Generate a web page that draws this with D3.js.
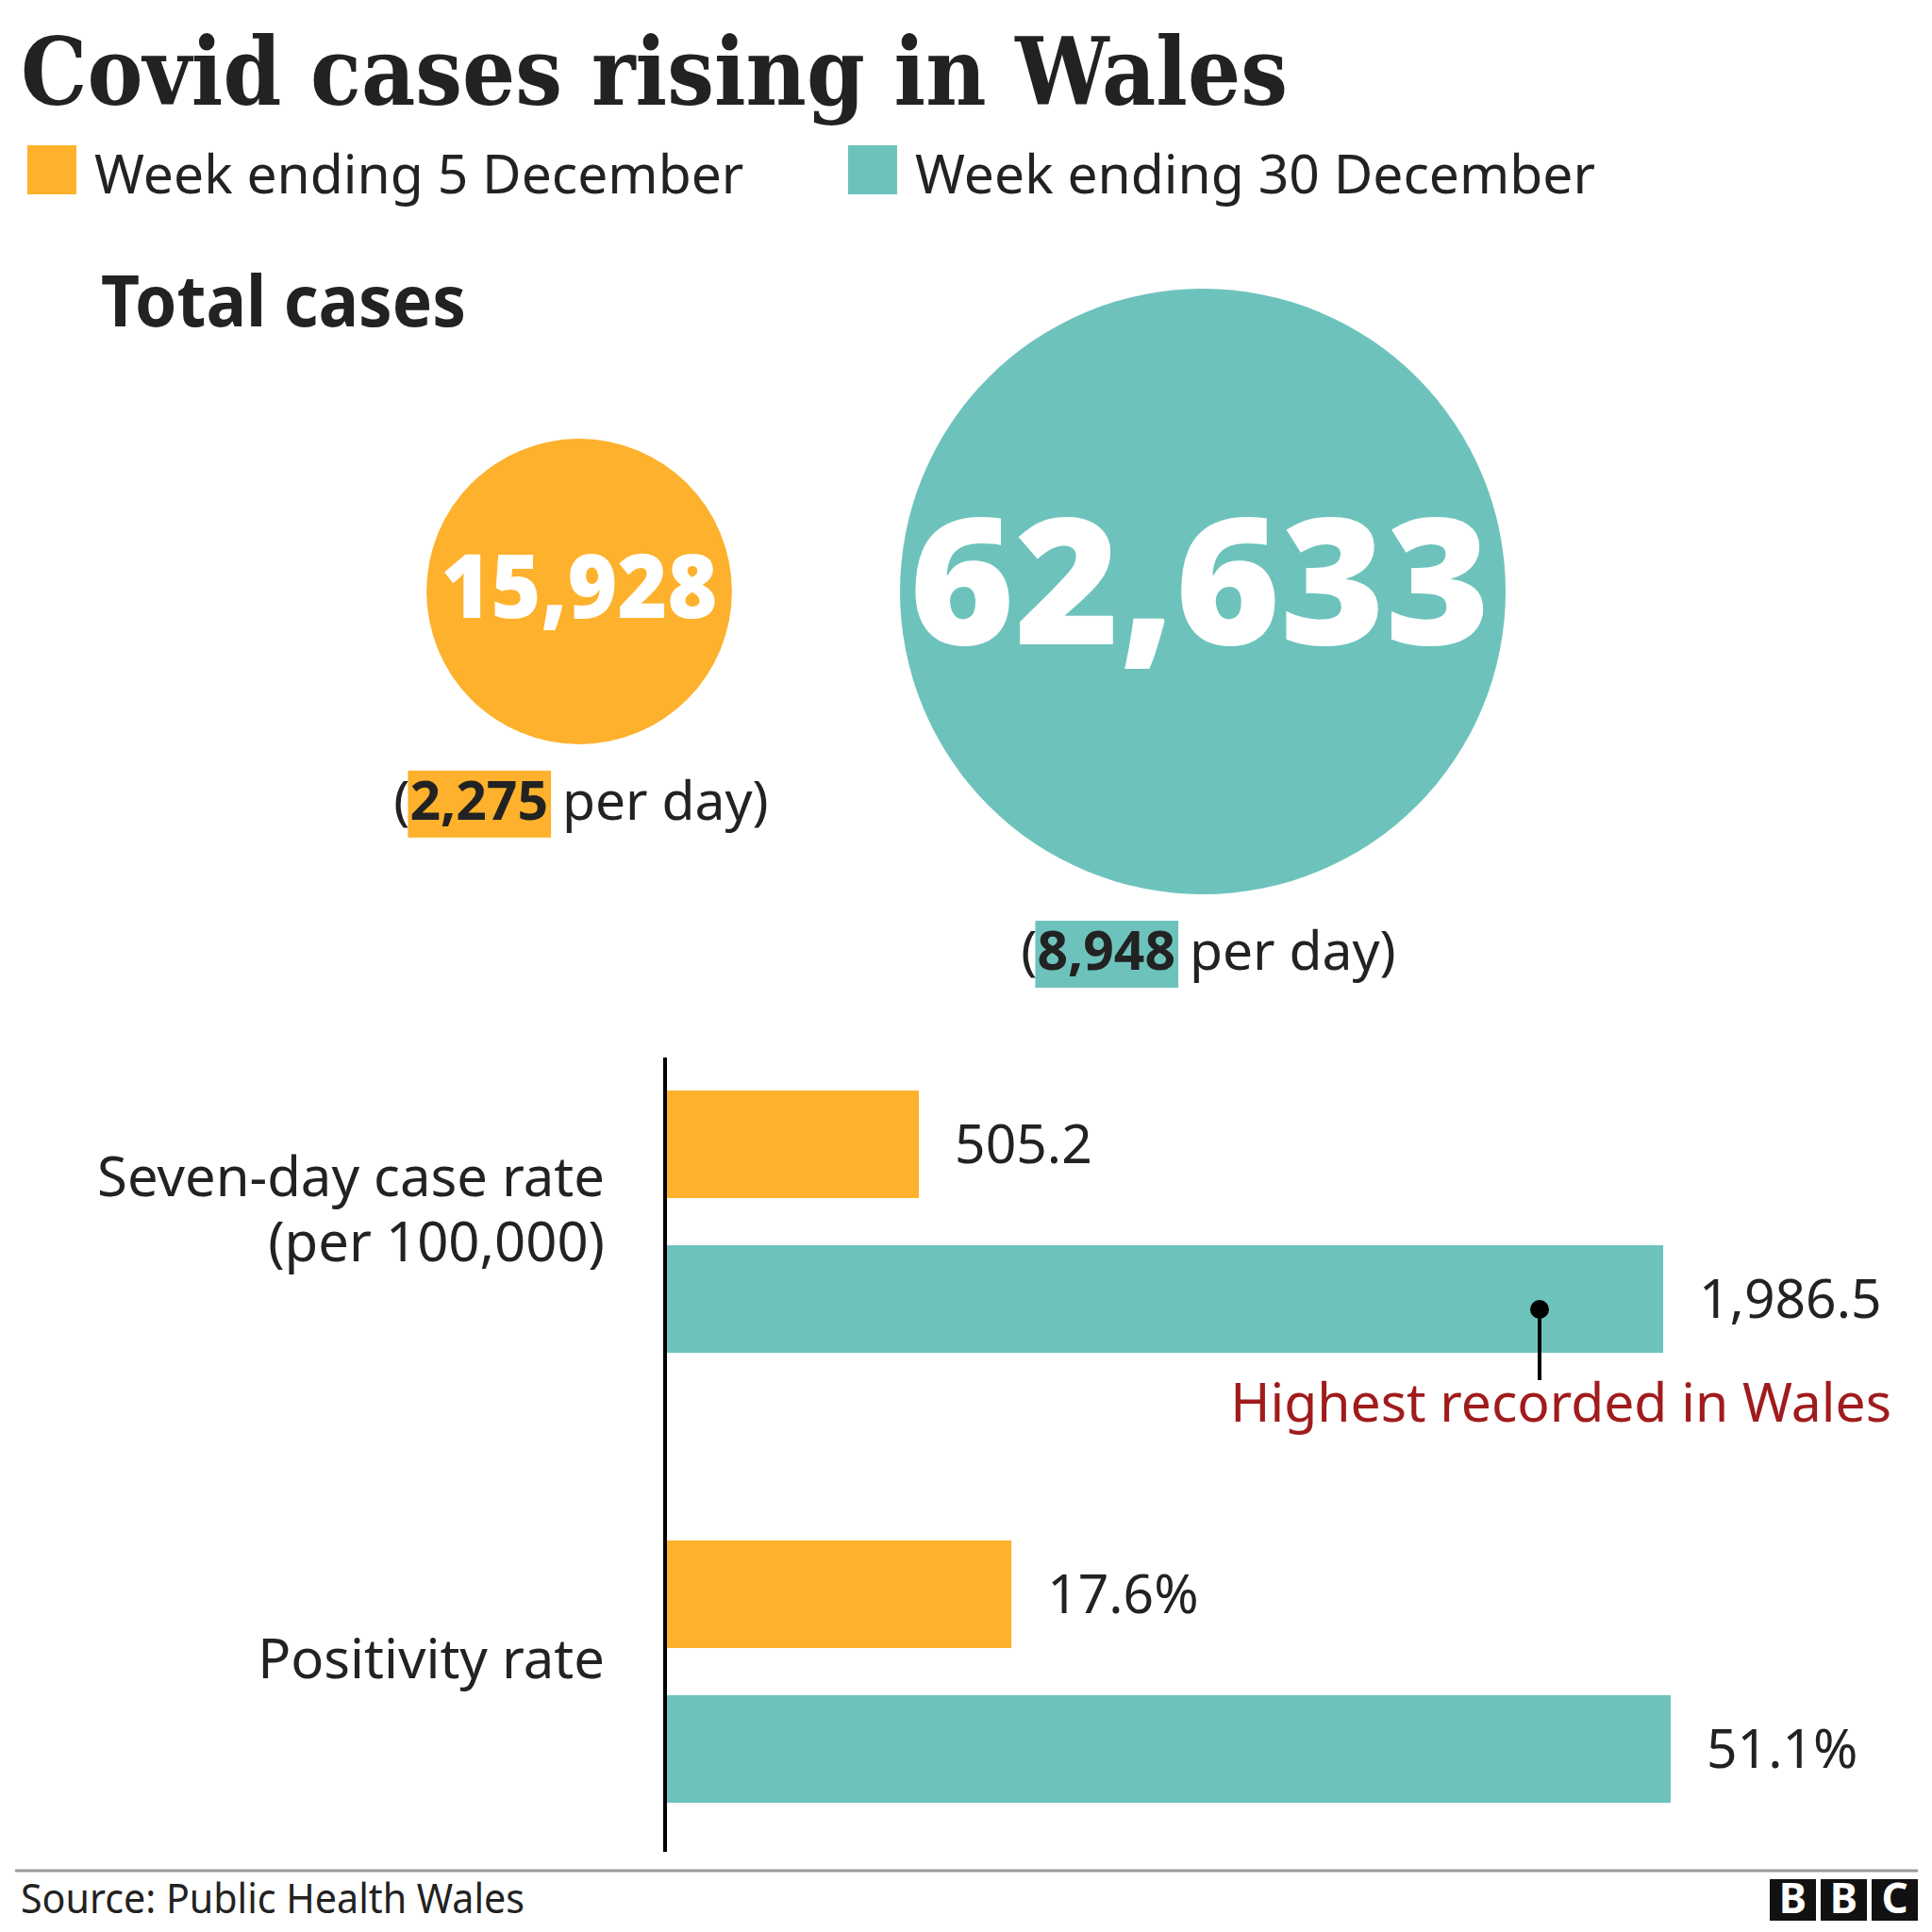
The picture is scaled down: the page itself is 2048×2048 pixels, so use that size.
<!DOCTYPE html>
<html>
<head>
<meta charset="utf-8">
<script src="https://cdn.jsdelivr.net/npm/d3@7"></script>
<style>
  html, body { margin: 0; padding: 0; background: #fff; }
  svg { display: block; }
  text { white-space: pre; }
</style>
</head>
<body>
<script>
// ---------------- DATA ----------------
const titleText = "Covid cases rising in Wales";
const seriesNames = ["Week ending 5 December", "Week ending 30 December"];
const totalCases = [15928, 62633];
const perDay = [2275, 8948];
const metricKeys = ["caseRate", "positivity"];
const metricLabelLines = [["Seven-day case rate", "(per 100,000)"], ["Positivity rate"]];
const caseRate = [505.2, 1986.5];
const positivity = [17.6, 51.1];
const annotationText = "Highest recorded in Wales";
const sourceText = "Source: Public Health Wales";
const logoLetters = ["B", "B", "C"];

// ---------------- STYLE / LAYOUT ----------------
const colors = ["#fdb12c", "#6dc3bc"];
const ink = "#222222";
const sans = "'Noto Sans', 'Open Sans', sans-serif";
const heavy = "'Open Sans', 'Noto Sans', sans-serif";
const serif = "'DejaVu Serif', serif";

const svg = d3.select("body").append("svg")
  .attr("width", 2048).attr("height", 2048);
svg.append("rect").attr("width", 2048).attr("height", 2048).attr("fill", "#fff");

function fit(sel, w) {
  const n = sel.node();
  const cur = n.getComputedTextLength();
  if (Math.abs(cur - w) / w > 0.01) {
    sel.attr("textLength", w).attr("lengthAdjust", "spacingAndGlyphs");
  }
  return sel;
}

// Title
fit(svg.append("text")
  .attr("x", 22).attr("y", 111)
  .style("font-family", serif).style("font-weight", 700)
  .style("font-size", "99px").attr("fill", ink)
  .text(titleText), 1343);

// Legend
const legendX = [29, 899];
const legendW = [690, 725];
seriesNames.forEach((name, i) => {
  svg.append("rect").attr("x", legendX[i]).attr("y", 154)
    .attr("width", 52).attr("height", 52).attr("fill", colors[i]);
  fit(svg.append("text").attr("x", legendX[i] + 71).attr("y", 205)
    .style("font-family", sans).style("font-size", "57px").attr("fill", ink)
    .text(name), legendW[i]);
});

// Total cases heading
fit(svg.append("text").attr("x", 107).attr("y", 346)
  .style("font-family", sans).style("font-weight", 700)
  .style("font-size", "76px").attr("fill", ink)
  .text("Total cases"), 387);

// Bubbles
const rScale = d3.scaleSqrt().domain([0, d3.max(totalCases)]).range([0, 321]);
const bubbleX = [614, 1275];
const bubbleY = 627;
const fmtInt = d3.format(",");
const numW = [293, 616];

totalCases.forEach((v, i) => {
  const r = rScale(v);
  const cx = bubbleX[i];
  svg.append("circle").attr("cx", cx).attr("cy", bubbleY).attr("r", r).attr("fill", colors[i]);
  const fs = r * 0.578;
  fit(svg.append("text").attr("x", cx - (i === 1 ? 3 : 0)).attr("y", bubbleY + fs * 0.3)
    .attr("text-anchor", "middle")
    .style("font-family", heavy).style("font-weight", 800)
    .style("font-size", fs + "px").attr("fill", "#fff")
    .text(fmtInt(v)), numW[i]);

  // per day line
  const base = bubbleY + r + 80;
  const g = svg.append("g");
  const t1 = g.append("text").attr("y", base).style("font-family", sans)
    .style("font-size", "57px").attr("fill", ink).text("(");
  const t2 = g.append("text").attr("y", base).style("font-family", sans)
    .style("font-weight", 700).style("font-size", "57px").attr("fill", ink).text(fmtInt(perDay[i]));
  const t3 = g.append("text").attr("y", base).style("font-family", sans)
    .style("font-size", "57px").attr("fill", ink).text("\u00a0per day)");
  const w1 = t1.node().getComputedTextLength();
  const w2 = t2.node().getComputedTextLength();
  const w3 = t3.node().getComputedTextLength();
  const total = w1 + w2 + w3;
  const x0 = cx - total / 2 + (i === 1 ? 6 : 2);
  t1.attr("x", x0);
  t2.attr("x", x0 + w1);
  t3.attr("x", x0 + w1 + w2);
  g.insert("rect", "text")
    .attr("x", x0 + w1 - 2).attr("y", base - 52)
    .attr("width", w2 + 5).attr("height", 71)
    .attr("fill", colors[i]);
});

// ---------------- BAR SECTION ----------------
const axisX = 705;
const metricValues = { caseRate: caseRate, positivity: positivity };
const barMax = { caseRate: 1058, positivity: 1066 };
const xScales = {};
metricKeys.forEach(k => {
  xScales[k] = d3.scaleLinear().domain([0, d3.max(metricValues[k])]).range([0, barMax[k]]);
});
const fmtVal = {
  caseRate: d3.format(",.1f"),
  positivity: v => d3.format(".1f")(v) + "%"
};

const yOuter = d3.scaleBand().domain(metricKeys).range([1156, 1156 + 477 * 2]).paddingInner(0);
const yInner = d3.scaleBand().domain(d3.range(seriesNames.length)).range([0, 278])
  .paddingInner(50 / 164).paddingOuter(0);

metricKeys.forEach((k, mi) => {
  const g = svg.append("g").attr("transform", `translate(0,${yOuter(k)})`);
  metricValues[k].forEach((v, si) => {
    const y = yInner(si);
    const w = xScales[k](v);
    g.append("rect").attr("x", axisX).attr("y", y)
      .attr("width", w).attr("height", yInner.bandwidth())
      .attr("fill", colors[si]);
    g.append("text").attr("x", axisX + w + 38)
      .attr("y", y + yInner.bandwidth() / 2 + 20)
      .style("font-family", sans).style("font-size", "57px").attr("fill", ink)
      .text(fmtVal[k](v));
  });
  // category label (one text, one tspan per line)
  const lines = metricLabelLines[mi];
  const center = 139 - 13;
  const lh = 69;
  const t = g.append("text").attr("text-anchor", "end")
    .style("font-family", sans).style("font-size", "58px").attr("fill", ink);
  lines.forEach((line, li) => {
    t.append("tspan").attr("x", 641)
      .attr("y", center + 20 + (li - (lines.length - 1) / 2) * lh)
      .text(line);
  });
});

// axis line
svg.append("line").attr("x1", axisX).attr("x2", axisX)
  .attr("y1", 1121).attr("y2", 1963)
  .attr("stroke", "#000").attr("stroke-width", 4);

// annotation
const tealCaseY = yOuter("caseRate") + yInner(1);
const dotX = axisX + xScales.caseRate(caseRate[1]) - 131;
const dotY = tealCaseY + yInner.bandwidth() / 2 + 11;
svg.append("line").attr("x1", dotX).attr("x2", dotX)
  .attr("y1", dotY).attr("y2", tealCaseY + yInner.bandwidth() + 29)
  .attr("stroke", "#000").attr("stroke-width", 4);
svg.append("circle").attr("cx", dotX).attr("cy", dotY).attr("r", 10).attr("fill", "#000");
svg.append("text").attr("x", 2005).attr("y", 1507).attr("text-anchor", "end")
  .style("font-family", sans).style("font-size", "57px").attr("fill", "#a01c1c")
  .text(annotationText);

// ---------------- FOOTER ----------------
svg.append("line").attr("x1", 16).attr("x2", 2033).attr("y1", 1983).attr("y2", 1983)
  .attr("stroke", "#999").attr("stroke-width", 3);
fit(svg.append("text").attr("x", 22).attr("y", 2028)
  .style("font-family", sans).style("font-size", "43px").attr("fill", ink)
  .text(sourceText), 534);

logoLetters.forEach((L, i) => {
  const x = 1876 + i * 54;
  svg.append("rect").attr("x", x).attr("y", 1992).attr("width", 49).attr("height", 44).attr("fill", "#111");
  svg.append("text").attr("x", x + 24.5).attr("y", 2028).attr("text-anchor", "middle")
    .style("font-family", sans).style("font-weight", 700).style("font-size", "44px")
    .attr("fill", "#fff").text(L);
});
</script>
</body>
</html>
